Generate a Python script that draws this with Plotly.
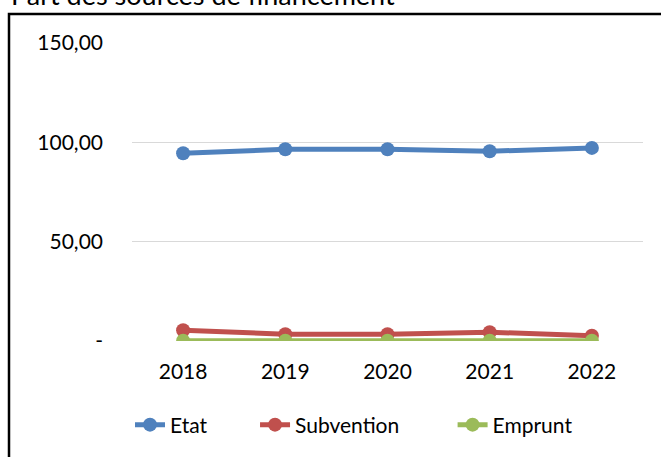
import plotly.graph_objects as go

years = ["2018", "2019", "2020", "2021", "2022"]
etat = [94.5, 96.5, 96.5, 95.5, 97.2]
subvention = [5.4, 3.4, 3.4, 4.4, 2.7]
emprunt = [0.1, 0.1, 0.1, 0.1, 0.1]

y_tickvals = [0, 50, 100, 150]
y_ticktext = ["-", "50,00", "100,00", "150,00"]

series = [("Etat", "Etat" + "\u00a0" * 8, etat, "#4F81BD"),
          ("Subvention", "Subvention" + "\u00a0" * 9, subvention, "#C0504D"),
          ("Emprunt", "Emprunt", emprunt, "#9BBB59")]

W, H = 661, 457
L, R, T, B = 132, 18, 43, 116
pw, ph = W - L - R, H - T - B

def px(x):
    return (x - L) / pw

def py(y):
    return (H - B - y) / ph

FONT = "Lato"
FS = 21

fig = go.Figure()
for key, label, vals, col in series:
    fig.add_trace(go.Scatter(x=years, y=vals, name=label, mode="lines+markers",
                             line=dict(color=col, width=5),
                             marker=dict(color=col, size=14)))

fig.update_layout(
    width=W, height=H,
    margin=dict(l=L, r=R, t=T, b=B),
    paper_bgcolor="white", plot_bgcolor="white",
    font=dict(family=FONT, size=FS, color="#000000"),
    showlegend=True,
    legend=dict(orientation="h", x=px(130), xanchor="left", y=py(425), yanchor="middle",
                font=dict(size=FS, family=FONT)),
    xaxis=dict(type="category", range=[-0.5, 4.5], showgrid=False, showline=False,
               ticks="", ticklabelstandoff=16, tickfont=dict(size=FS)),
    yaxis=dict(range=[0, 150], tickvals=y_tickvals, ticktext=y_ticktext,
               showgrid=True, gridcolor="#D9D9D9", gridwidth=1, zeroline=False,
               showline=False, ticks="", ticklabelstandoff=28, tickfont=dict(size=FS)),
    shapes=[dict(type="rect", xref="paper", yref="paper",
                 x0=px(9), x1=px(700), y0=py(500), y1=py(14),
                 line=dict(color="black", width=2.5), fillcolor="rgba(0,0,0,0)", layer="above")],
    annotations=[dict(text="Part des sources de financement", xref="paper", yref="paper",
                      x=px(9), y=py(13), xanchor="left", yanchor="bottom", showarrow=False,
                      font=dict(size=27, family=FONT, color="#000000"))],
)

fig.write_html("out.html", config={"displayModeBar": False},
               post_script="document.body.style.margin='0';document.body.style.overflow='hidden';")
